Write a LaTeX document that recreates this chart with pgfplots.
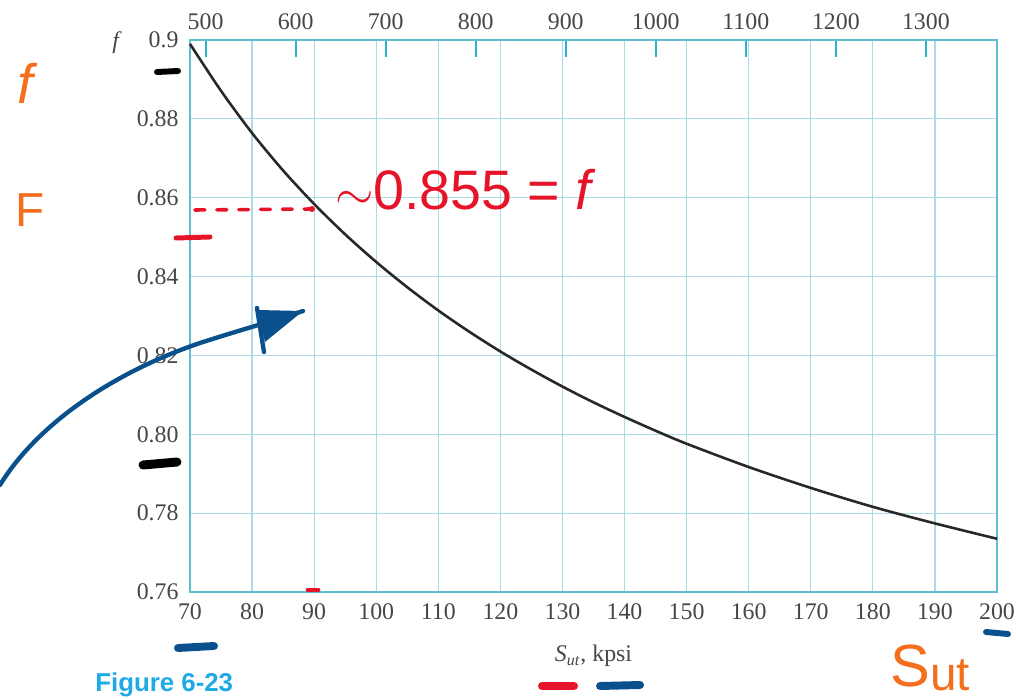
\documentclass[border=0pt]{standalone}
\usepackage{pgfplots}
\pgfplotsset{compat=1.18}
\usepackage{fontspec}
\setmainfont{Liberation Serif}
\newfontfamily\hand{Liberation Sans}

\definecolor{gridc}{RGB}{170,220,230}
\definecolor{framec}{RGB}{95,190,208}
\definecolor{tickc}{RGB}{40,180,208}
\definecolor{curvec}{RGB}{40,40,40}
\definecolor{labc}{RGB}{70,70,70}
\definecolor{annred}{RGB}{230,20,40}
\definecolor{annblue}{RGB}{10,80,140}
\definecolor{annorange}{RGB}{245,110,30}
\definecolor{figc}{RGB}{30,170,230}

% fraction f against Sut (kpsi)
\pgfplotstableread{
S f
70 0.8990
75 0.8871
80 0.8764
85 0.8669
90 0.8584
95 0.8507
100 0.8437
105 0.8373
110 0.8314
115 0.8260
120 0.8210
125 0.8164
130 0.8121
135 0.8081
140 0.8044
145 0.8009
150 0.7976
160 0.7917
170 0.7864
180 0.7816
190 0.7774
200 0.7735
}\fdata

\begin{document}
\begin{tikzpicture}
\useasboundingbox (-3.363,-1.8762) rectangle (14.6202,10.4784);

\begin{axis}[
  width=14.2839cm, height=9.7704cm, scale only axis,
  xmin=70, xmax=200, ymin=0.76, ymax=0.9,
  xtick={70,80,90,100,110,120,130,140,150,160,170,180,190,200},
  xticklabels={70,80,90,100,110,120,130,140,150,160,170,180,190,200},
  ytick={0.76,0.78,0.80,0.82,0.84,0.86,0.88,0.9},
  yticklabels={0.76,0.78,0.80,0.82,0.84,0.86,0.88,0.9},
  grid=major, grid style={gridc, line width=0.6pt},
  axis line style={framec, line width=0.9pt},
  major tick length=0pt,
  tick label style={font=\fontsize{12}{14}\selectfont, text=labc},
  xticklabel style={yshift=-0.08cm},
  yticklabel style={xshift=-0.08cm},
  /pgf/number format/assume math mode=true,
  xlabel={\textit{S}\textsubscript{\textit{ut}}, kpsi},
  xlabel style={at={(axis description cs:0.5,-0.116)}, anchor=center,
    font=\fontsize{12}{14}\selectfont, text=labc},
  ylabel={\textit{f}},
  ylabel style={at={(axis description cs:-0.0905,0.995)}, anchor=center,
    rotate=-90, font=\fontsize{12}{14}\selectfont, text=labc},
  clip=false,
]
\addplot[curvec, line width=1.3pt, smooth] table[x=S, y=f] {\fdata};
\end{axis}

% top axis in MPa
\begin{axis}[
  width=14.2839cm, height=9.7704cm, scale only axis,
  xmin=482.65, xmax=1379.0, ymin=0.76, ymax=0.9,
  axis x line*=top, axis y line=none,
  xtick={500,600,700,800,900,1000,1100,1200,1300},
  xticklabels={500,600,700,800,900,1000,1100,1200,1300},
  scaled x ticks=false,
  tick align=inside, major tick length=0.3cm,
  tick style={tickc, line width=1pt},
  axis line style={framec, line width=0.9pt},
  tick label style={font=\fontsize{12}{14}\selectfont, text=labc},
  xticklabel style={yshift=0.05cm},
  /pgf/number format/assume math mode=true,
]
\end{axis}

% hand-written notes, in pixel units of the reference
\begin{scope}[shift={(-3.363cm,10.4784cm)}, x=0.0177cm, y=-0.0177cm,
  line cap=round]
  % red
  \draw[annred, line width=1.8pt, dash pattern=on 5pt off 6pt] (195,210) -- (312,209);
  \fill[annred] (312,209) circle (3);
  \node[annred, anchor=west, font=\hand\fontsize{28}{30}\selectfont] at (328,190) {$\sim$0.855 = \textit{f}};
  \draw[annred, line width=2.5pt] (176,238) -- (210,237);
  \draw[annred, line width=2.5pt] (308,590) -- (318,590);
  \draw[annred, line width=4pt] (542,686) -- (574,686);
  % blue
  \draw[annblue, line width=4pt] (178,648) -- (214,646);
  \draw[annblue, line width=4pt] (600,686) -- (640,685);
  \draw[annblue, line width=3pt] (986,632) -- (1008,634);
  \draw[annblue, line width=2.2pt] (0,485) .. controls (40,420) and (120,370) .. (200,343)
     .. controls (240,330) and (270,322) .. (303,311);
  \fill[annblue] (257,310) -- (303,311) -- (265,342) -- cycle;
  \draw[annblue, line width=2.2pt] (257,308) -- (264,352);
  % black
  \draw[black, line width=3pt] (157,72) -- (178,71);
  \draw[black, line width=4.5pt] (143,465) -- (177,462);
  % orange
  \node[annorange, font=\hand\fontsize{28}{30}\selectfont] at (28,83) {\textit{f}};
  \node[annorange, font=\hand\fontsize{24}{26}\selectfont] at (30,210) {F};
  \node[annorange, font=\hand\fontsize{30}{32}\selectfont] at (930,668) {S\raisebox{-2pt}{\fontsize{24}{26}\selectfont ut}};
  % caption at the bottom edge
  \node[figc, anchor=south west, font=\hand\bfseries\fontsize{13}{15}\selectfont, inner sep=0pt] at (95,697) {Figure 6-23};
\end{scope}
\end{tikzpicture}
\end{document}
